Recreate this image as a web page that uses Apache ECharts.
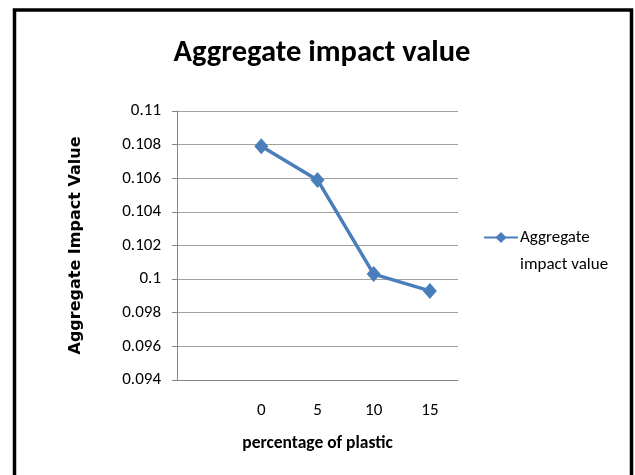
<!DOCTYPE html>
<html>
<head>
<meta charset="utf-8">
<script src="https://cdn.jsdelivr.net/npm/echarts@6/dist/echarts.min.js"></script>
<style>
  html, body { margin: 0; padding: 0; background: #fff; }
  #chart { width: 635px; height: 475px; }
</style>
</head>
<body>
<div id="chart"></div>
<script>
// Plastic content (%) on the x axis; the first slot is left blank
const categories = ['', '0', '5', '10', '15'];
const impactValues = [null, 0.1079, 0.1059, 0.1003, 0.0993];
const seriesName = 'Aggregate impact value';

const FONT = 'Carlito, "Liberation Sans Narrow", Lato, sans-serif';
const chart = echarts.init(document.getElementById('chart'));

chart.setOption({
  backgroundColor: '#fff',
  animation: false,
  title: {
    text: 'Aggregate impact value',
    left: 317,
    textAlign: 'center',
    top: 33,
    textStyle: { fontFamily: FONT, fontSize: 30.5, fontWeight: 'bold', color: '#000' }
  },
  graphic: [{
    type: 'rect',
    shape: { x: 14.5, y: 10, width: 617, height: 520 },
    style: { fill: null, stroke: '#000', lineWidth: 3.5 },
    silent: true
  }],
  grid: { left: 177, right: 177, top: 111, bottom: 95, containLabel: false },
  legend: {
    left: 483,
    top: 197,
    padding: 0,
    orient: 'vertical',
    itemWidth: 34,
    itemHeight: 14,
    itemGap: 0,
    data: [seriesName],
    // blank first line keeps the marker level with "Aggregate"
    formatter: () => ' \nAggregate\nimpact value',
    textStyle: { fontFamily: FONT, fontSize: 17, color: '#000', lineHeight: 27, padding: [0, 0, 0, -3] }
  },
  xAxis: {
    type: 'category',
    data: categories,
    boundaryGap: true,
    name: 'percentage of plastic',
    nameLocation: 'middle',
    nameGap: 55,
    nameTextStyle: { fontFamily: FONT, fontSize: 17.5, fontWeight: 'bold', color: '#000' },
    axisLine: { lineStyle: { color: '#868686', width: 1 } },
    axisTick: { show: false },
    axisLabel: { fontFamily: FONT, fontSize: 17, color: '#000', margin: 22 }
  },
  yAxis: {
    type: 'value',
    min: 0.094,
    max: 0.11,
    interval: 0.002,
    name: 'Aggregate Impact Value',
    nameLocation: 'middle',
    nameRotate: 90,
    nameGap: 93,
    nameTextStyle: { fontFamily: '"DejaVu Sans", Verdana, sans-serif', fontSize: 16, fontWeight: 'bold', color: '#000' },
    axisLine: { show: true, lineStyle: { color: '#868686', width: 1 } },
    axisTick: { show: true, length: 5, lineStyle: { color: '#868686' } },
    axisLabel: {
      fontFamily: FONT, fontSize: 17, color: '#000', margin: 16,
      formatter: v => String(parseFloat(v.toFixed(3)))
    },
    splitLine: { lineStyle: { color: '#a0a0a0', width: 1 } }
  },
  series: [{
    name: seriesName,
    type: 'line',
    data: impactValues,
    connectNulls: false,
    symbol: 'diamond',
    symbolSize: [14, 16],
    lineStyle: { color: '#4a7ebb', width: 3.5 },
    itemStyle: { color: '#4a7ebb' }
  }]
});
</script>
</body>
</html>
